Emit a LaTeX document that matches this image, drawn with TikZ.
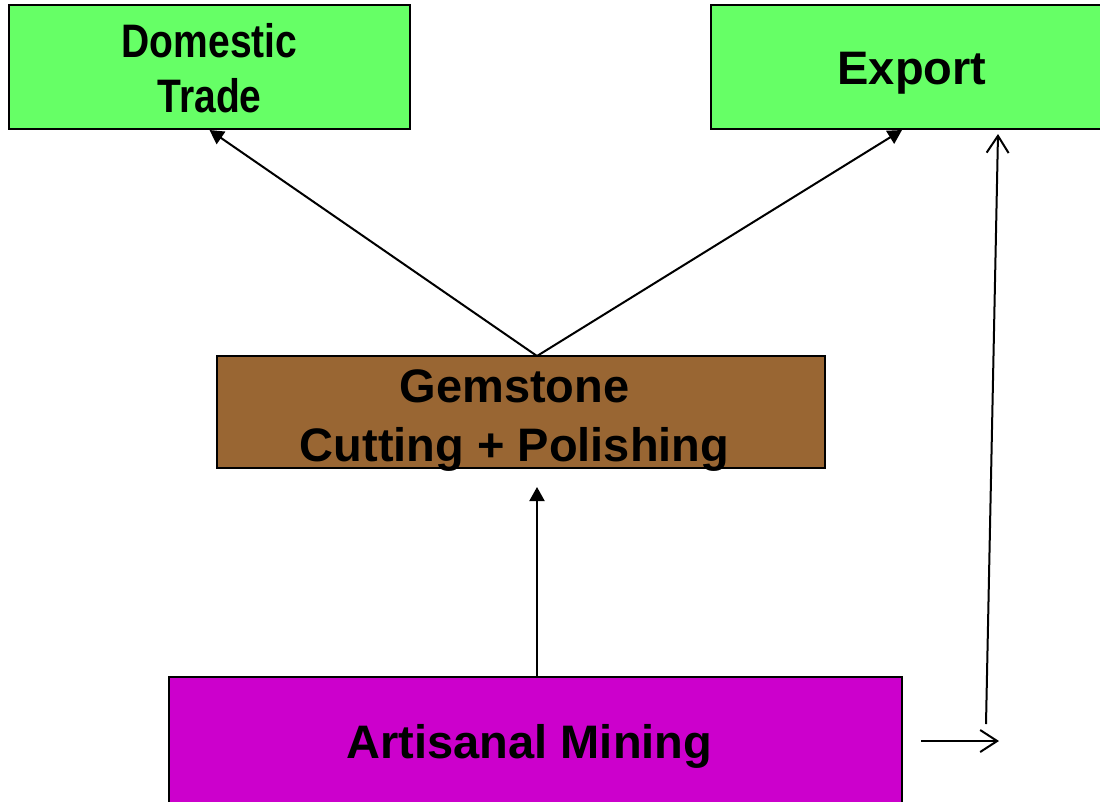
\documentclass[tikz,border=0pt]{standalone}
\usepackage{fontspec}
\setmainfont{Liberation Sans}
\usetikzlibrary{arrows.meta}
\definecolor{boxgreen}{HTML}{66FF66}
\definecolor{boxbrown}{HTML}{996633}
\definecolor{boxmag}{HTML}{CC00CC}
\newcommand{\lowerby}[2]{\raisebox{0pt}[\dimexpr\height+#1\relax]{#2}}
\newcommand{\shallow}[2]{\raisebox{0pt}[\height][\dimexpr\depth-#1\relax]{#2}}
\tikzset{
  box/.style={draw=black, line width=2pt, rectangle, inner sep=0pt, align=center,
    font=\fontsize{47}{57}\selectfont\bfseries},
  solidarrow/.style={draw=black, line width=2pt, -{Triangle[length=14pt,width=15pt]}},
  openarrow/.style={draw=black, line width=2pt, -{Straight Barb[length=17pt,width=22pt,line width=2pt]}}
}
\begin{document}
\begin{tikzpicture}[x=1pt,y=-1pt]
\useasboundingbox (0,0) rectangle (1100,801);
\clip (0,0) rectangle (1100,801);
\node[box, fill=boxgreen, minimum width=401pt, minimum height=124pt] (dom) at (209.5,67)
  {\lowerby{2pt}{\scalebox{0.83}[1]{Domestic}}\\[-2pt]\scalebox{0.83}[1]{Trade}};
\node[box, fill=boxgreen, minimum width=402pt, minimum height=124pt] (exp) at (912,67)
  {\lowerby{12pt}{Export}};
\node[box, fill=boxbrown, minimum width=608pt, minimum height=112pt] (gem) at (521,412)
  {\lowerby{7pt}{Gemstone}\hspace*{13pt}\\[2pt]\shallow{22pt}{Cutting + Polishing}\hspace*{13pt}};
\node[box, fill=boxmag, minimum width=733pt, minimum height=131pt] (min) at (535.5,742.5)
  {\lowerby{8pt}{Artisanal Mining}\hspace*{12pt}};
\coordinate (gtop) at (537,356);
\coordinate (gbot) at (537,487);
\coordinate (mtop) at (537,677);
\coordinate (etip) at (902,130);
\coordinate (h1) at (921,741);
\coordinate (h2) at (999,741);
\coordinate (v1) at (986,724);
\coordinate (v2) at (998,134);
\draw[solidarrow] (gtop) -- (dom.south);
\draw[solidarrow] (gtop) -- (etip);
\draw[solidarrow] (mtop) -- (gbot);
\draw[openarrow] (h1) -- (h2);
\draw[openarrow] (v1) -- (v2);
\end{tikzpicture}
\end{document}
